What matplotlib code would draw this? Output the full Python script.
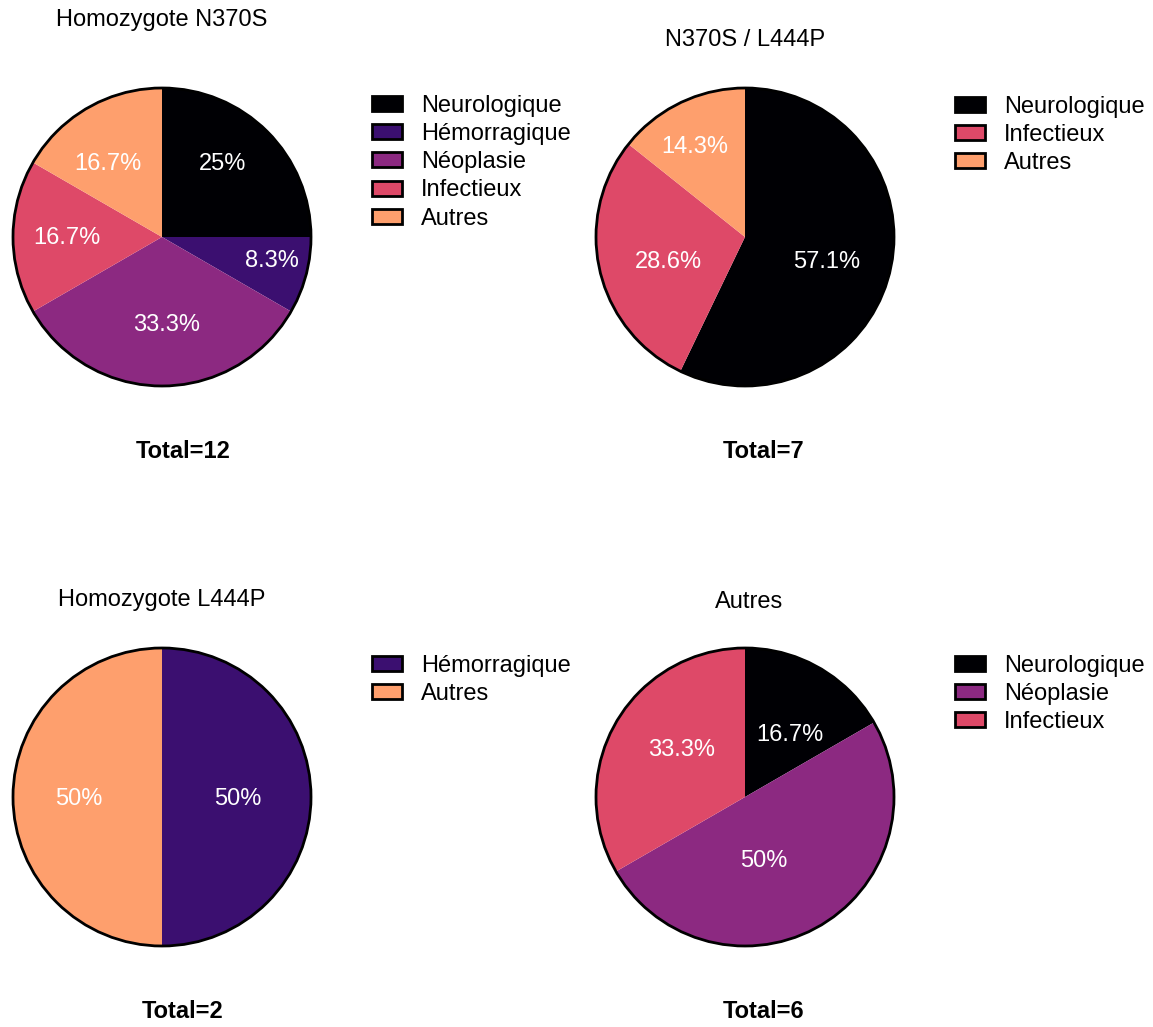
import numpy as np
import matplotlib
matplotlib.use("Agg")
import matplotlib.pyplot as plt
from matplotlib.patches import Patch, Circle

plt.rcParams['font.family'] = ['Liberation Sans', 'DejaVu Sans']

# Data (counts per cause of death)
titles = ["Homozygote N370S", "N370S / L444P", "Homozygote L444P", "Autres"]
labels_n370s = ["Neurologique", "Hémorragique", "Néoplasie", "Infectieux", "Autres"]
counts_n370s = [3, 1, 4, 2, 2]
labels_het = ["Neurologique", "Infectieux", "Autres"]
counts_het = [4, 2, 1]
labels_l444p = ["Hémorragique", "Autres"]
counts_l444p = [1, 1]
labels_other = ["Neurologique", "Néoplasie", "Infectieux"]
counts_other = [1, 3, 2]

# magma palette per category
colors = {
    "Neurologique": "#000004",
    "Hémorragique": "#3b0f70",
    "Néoplasie": "#8c2981",
    "Infectieux": "#de4968",
    "Autres": "#fe9f6d",
}

W, H = 1153, 1027
fig = plt.figure(figsize=(W / 100, H / 100), dpi=100)

def fx(px):
    return px / W

def fy(py):
    return 1 - py / H

def pct(p):
    s = f"{p:.1f}"
    if s.endswith(".0"):
        s = s[:-2]
    return s + "%"

# layout per panel: pie centre (px), title pos, legend anchor, total pos,
# label distance and angle tweak (deg) for each wedge label
panels = [
    dict(labels=labels_n370s, counts=counts_n370s, cx=162, cy=237, tx=162, ty=20,
         lx=372, ly=95, totx=183, toty=452,
         pd=[0.645, 0.753, 0.578, 0.638, 0.62], da=[6.3, 3.7, 3.3, -0.6, 5.8]),
    dict(labels=labels_het, counts=counts_het, cx=745, cy=237, tx=745, ty=40,
         lx=955, ly=96, totx=764, toty=452,
         pd=[0.572, 0.539, 0.703], da=[-2.9, 3.7, 2.8]),
    dict(labels=labels_l444p, counts=counts_l444p, cx=162, cy=797, tx=162, ty=600,
         lx=372, ly=655, totx=183, toty=1011,
         pd=[0.507, 0.56], da=[0, 0]),
    dict(labels=labels_other, counts=counts_other, cx=745, cy=797, tx=749, ty=602,
         lx=955, ly=655, totx=764, toty=1011,
         pd=[0.525, 0.435, 0.536], da=[-5.1, -13, -7.9]),
]

R = 149
for title, p in zip(titles, panels):
    ax = fig.add_axes([fx(p["cx"] - R), fy(p["cy"] + R), 2 * R / W, 2 * R / H])
    cols = [colors[l] for l in p["labels"]]
    wedges, _, autotexts = ax.pie(p["counts"], colors=cols, startangle=90, counterclock=False,
                                  autopct=pct, wedgeprops=dict(linewidth=0),
                                  textprops=dict(color="white", fontsize=17))
    for w, t, d, da in zip(wedges, autotexts, p["pd"], p["da"]):
        ang = np.deg2rad((w.theta1 + w.theta2) / 2 + da)
        t.set_position((d * np.cos(ang), d * np.sin(ang) - 0.013))
    ax.add_patch(Circle((0, 0), 1, fill=False, edgecolor="black", linewidth=2, clip_on=False))
    ax.set_xlim(-1, 1)
    ax.set_ylim(-1, 1)
    ax.axis("off")

    fig.text(fx(p["tx"]), fy(p["ty"]), title, ha="center", va="center", fontsize=17)
    total = sum(p["counts"])
    fig.text(fx(p["totx"]), fy(p["toty"]), f"Total={total}", ha="center", va="center",
             fontsize=17, fontweight="bold")

    handles = [Patch(facecolor=colors[l], edgecolor="black", linewidth=2) for l in p["labels"]]
    fig.legend(handles, p["labels"], loc="upper left", bbox_to_anchor=(fx(p["lx"]), fy(p["ly"])),
               frameon=False, fontsize=17, borderpad=0, borderaxespad=0,
               handlelength=1.28, handleheight=0.6, handletextpad=0.8, labelspacing=0.26)

fig.savefig("out.png", dpi=100)
